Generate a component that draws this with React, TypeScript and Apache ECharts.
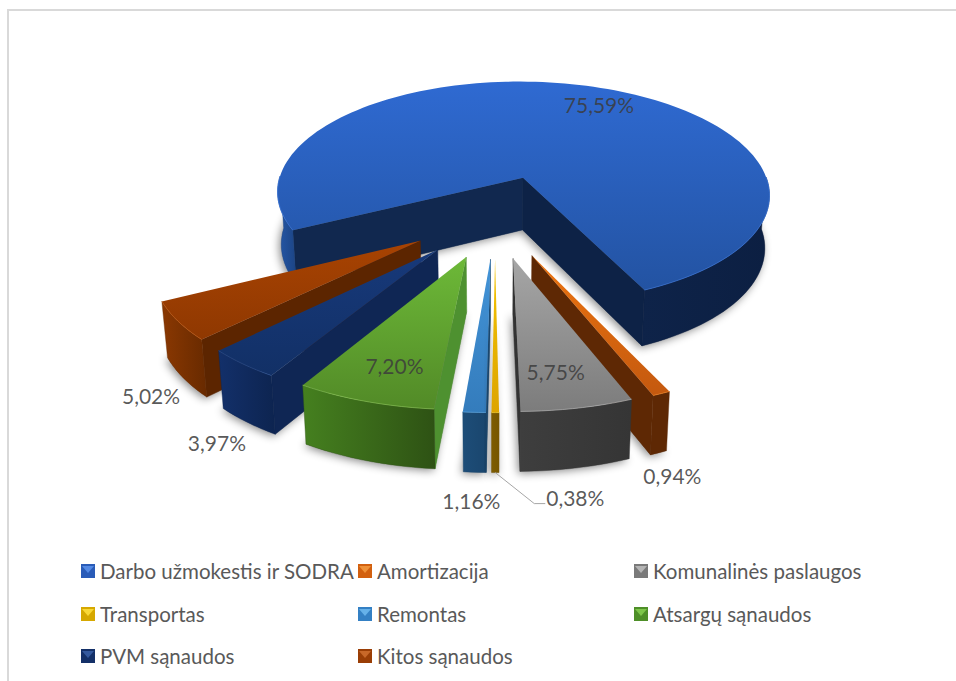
import React, { useEffect, useRef } from "react";
import * as echarts from "echarts";

const categories = [
  "Darbo užmokestis ir SODRA",
  "Amortizacija",
  "Komunalinės paslaugos",
  "Transportas",
  "Remontas",
  "Atsargų sąnaudos",
  "PVM sąnaudos",
  "Kitos sąnaudos",
];
const shares = [75.59, 0.94, 5.75, 0.38, 1.16, 7.2, 3.97, 5.02];

const firstSliceAngle = 243.1;
const explosion = 0.35;
const CX = 495, CY = 215.5, AX = 255.5, BY = 119, PX = 0.15, PY = 0.137;
const FONT = "Lato, 'Noto Sans', sans-serif";

const drawOrder = [0, 7, 6, 5, 4, 1, 2, 3];

const topColors = [
  ["#2F6AD2", "#2353A2"], ["#EC7410", "#C4590F"], ["#A6A6A6", "#7C7C7C"], ["#F4C400", "#DDA400"],
  ["#4394D8", "#347CBC"], ["#6DB938", "#528A27"], ["#17397A", "#123066"], ["#A84302", "#8F3801"],
];
const edgeColors = ["#11284F", "#5E2804", "#333333", "#7A5A00", "#1B4A74", "#4E9130", "#0F2654", "#5C2500"];
const endEdgeColors = ["#0D2246", "#5E2804", "#333333", "#7A5A00", "#1B4A74", "#4E9130", "#0F2654", "#5C2500"];
const outerColors: string[][][] = [
  [["#2558A8", "#1C4484"], ["#0E2349", "#0C1F42"]],
  [["#5E2804", "#5E2804"]],
  [["#3E3E3E", "#353535"]],
  [["#7E5C00", "#765600"]],
  [["#1D4D78", "#1A466E"]],
  [["#45801F", "#2E5214"]],
  [["#13306A", "#0D2450"]],
  [["#8A3802", "#682A00"]],
];
const rimColors = ["#3A76DC", "#F08020", "#B0B0B0", "#F8D030", "#58A4E0", "#84C050", "#2A4E90", "#BC5510"];
// label offset from the slice's outer-arc midpoint
const labelOffsets = [[9, 18], [11, 82], [-22, -37], [80, 85], [-3, 88], [30, -36], [-26, 79], [-27, 74]];

const legendCols = [81, 358, 634];
const legendRows = [565, 608, 650];
const legendTextShift = 4.5;
const legendColors = ["#2A5CB8", "#D2600F", "#7A7A7A", "#D6A800", "#3480C4", "#4E8F28", "#143068", "#9A3E06"];
const legendLight = ["#5C92EC", "#F59A40", "#C0C0C0", "#FFE040", "#70BAF0", "#86D050", "#3A60A8", "#D07030"];

const project = (u: number, v: number) => [CX + (AX * u) / (1 - PX * v), CY + (BY * v) / (1 - PY * v)];
const lower = (p: number[]) => [CX + (p[0] - CX) * 0.983, p[1] + 52 + (p[1] - 176) * 0.0338];
const rad = (d: number) => (d * Math.PI) / 180;
const vGrad = (c: string[]) => ({ type: "linear", x: 0, y: 0, x2: 0, y2: 1, colorStops: [{ offset: 0, color: c[0] }, { offset: 1, color: c[1] }] });
const hGrad = (c: string[]) => ({ type: "linear", x: 0, y: 0, x2: 1, y2: 0, colorStops: [{ offset: 0, color: c[0] }, { offset: 1, color: c[1] }] });

const total = shares.reduce((a, b) => a + b, 0);

function sliceChildren(i: number, value: number) {
  const before = shares.slice(0, i).reduce((a, b) => a + b, 0);
  const a0 = firstSliceAngle + (before / total) * 360;
  const a1 = a0 + (value / total) * 360;
  const mid = (a0 + a1) / 2;
  const au = explosion * Math.sin(rad(mid));
  const av = -explosion * Math.cos(rad(mid));
  const rim = (t: number) => project(au + Math.sin(rad(t)), av - Math.cos(rad(t)));
  const apex = project(au, av);
  const n = Math.max(2, Math.ceil((a1 - a0) / 2));
  const thetas: number[] = [];
  for (let k = 0; k <= n; k++) thetas.push(a0 + ((a1 - a0) * k) / n);
  const arc = thetas.map(rim);

  const children: any[] = [];
  children.push({
    type: "polygon",
    shape: { points: [lower(apex), ...arc.map(lower)] },
    style: { fill: "#888", shadowBlur: 9, shadowOffsetX: -2, shadowOffsetY: 2, shadowColor: "rgba(0,0,0,0.45)" },
    silent: true,
  });
  const edge = (t: number, inner: number, color: string) => {
    const p = rim(t);
    const q = rim(inner);
    const cross = (dx: number, dy: number) => (p[0] - apex[0]) * dy - (p[1] - apex[1]) * dx;
    const s1 = cross(0, 1);
    const s2 = cross(q[0] - apex[0], q[1] - apex[1]);
    if (s1 * s2 < 0) {
      children.push({
        type: "polygon",
        shape: { points: [apex, p, lower(p), lower(apex)] },
        style: { fill: color, stroke: color, lineWidth: 0.5 },
        silent: true,
      });
    }
  };
  edge(a0, a0 + 0.3, edgeColors[i]);
  edge(a1, a1 - 0.3, endEdgeColors[i]);
  const segments: number[][] = [];
  let current: number[] = [];
  for (const t of thetas) {
    if (Math.cos(rad(t)) < 0.03) current.push(t);
    else if (current.length) { segments.push(current); current = []; }
  }
  if (current.length) segments.push(current);
  segments.forEach((seg, idx) => {
    if (seg.length < 2) return;
    const pts = seg.map(rim);
    const c = outerColors[i][Math.min(idx, outerColors[i].length - 1)];
    children.push({
      type: "polygon",
      shape: { points: [...pts, ...pts.slice().reverse().map(lower)] },
      style: { fill: hGrad(c), stroke: c[1], lineWidth: 0.4 },
      silent: true,
    });
  });
  children.push({
    type: "polygon",
    shape: { points: [apex, ...arc] },
    style: { fill: vGrad(topColors[i]) },
    silent: true,
  });
  segments.forEach((seg) => {
    if (seg.length < 2) return;
    children.push({
      type: "polyline",
      shape: { points: seg.map(rim) },
      style: { fill: "none", stroke: rimColors[i], lineWidth: 1, opacity: 0.7 },
      silent: true,
    });
  });
  const m = rim(mid);
  const o = labelOffsets[i];
  const lx = m[0] + o[0], ly = m[1] + o[1];
  if (i === 3) {
    const b = lower(m);
    children.push({
      type: "polyline",
      shape: { points: [[b[0], b[1]], [b[0] + 39, b[1] + 31], [b[0] + 50, b[1] + 31]] },
      style: { fill: "none", stroke: "#A6A6A6", lineWidth: 1 },
      silent: true,
    });
  }
  children.push({
    type: "text",
    style: {
      x: lx, y: ly, text: value.toFixed(2).replace(".", ",") + "%",
      fill: "rgba(60,60,60,0.85)", fontSize: 21, fontFamily: FONT, align: "center", verticalAlign: "middle",
    },
    silent: true,
    z2: 50,
  });
  return children;
}

export default function App() {
  const ref = useRef<HTMLDivElement>(null);
  useEffect(() => {
    document.body.style.margin = "0";
    document.body.style.overflow = "hidden";
    const chart = echarts.init(ref.current!, undefined, { renderer: "svg" });
    const legendPos = categories.map((_, i) => [legendCols[i % 3], legendRows[Math.floor(i / 3)]]);
    const option: any = {
      animation: false,
      backgroundColor: "#ffffff",
      legend: categories.map((name, i) => ({
        data: [name],
        left: legendPos[i][0],
        top: legendPos[i][1] - legendTextShift,
        orient: "horizontal",
        padding: 0,
        itemWidth: 14,
        itemHeight: 14,
        itemGap: 0,
        selectedMode: false,
        icon: "rect",
        itemStyle: { color: legendColors[i] },
        textStyle: { color: "#595959", fontSize: 20.5, fontFamily: FONT, height: 14, lineHeight: 14, padding: [0, 0, 3, 0] },
      })),
      graphic: [
        {
          type: "polyline",
          shape: { points: [[8, 681], [8, 10], [956, 10]] },
          style: { fill: "none", stroke: "#D9D9D9", lineWidth: 2 },
          silent: true,
        },
        ...categories.map((_, i) => ({
          type: "polygon",
          z: 100,
          shape: {
            points: [
              [legendPos[i][0] + 1, legendPos[i][1] + 1],
              [legendPos[i][0] + 13, legendPos[i][1] + 1],
              [legendPos[i][0] + 7, legendPos[i][1] + 8],
            ],
          },
          style: { fill: legendLight[i], opacity: 0.85 },
          silent: true,
        })),
      ],
      series: categories.map((name, i) => ({
        type: "custom",
        name,
        coordinateSystem: "none",
        z: 2 + drawOrder.indexOf(i),
        silent: true,
        data: [[shares[i]]],
        renderItem: (_p: any, api: any) => ({ type: "group", children: sliceChildren(i, api.value(0)) }),
      })),
    };
    chart.setOption(option);
    return () => chart.dispose();
  }, []);
  return <div ref={ref} style={{ position: "absolute", left: 0, top: 0, width: 956, height: 681 }} />;
}
